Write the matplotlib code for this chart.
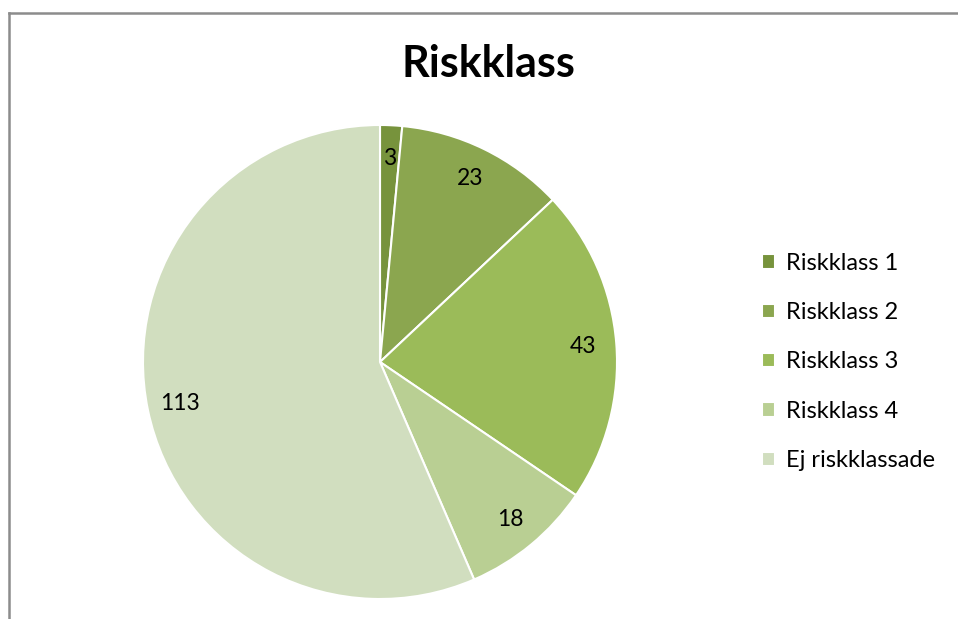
import matplotlib.pyplot as plt
from matplotlib.lines import Line2D

# data
categories = ["Riskklass 1", "Riskklass 2", "Riskklass 3", "Riskklass 4", "Ej riskklassade"]
values = [3, 23, 43, 18, 113]
colors = ["#77933C", "#8BA64F", "#9BBB59", "#B9CF93", "#D1DEBF"]

total = sum(values)
plt.rcParams['font.family'] = ['Lato', 'DejaVu Sans']

fig = plt.figure(figsize=(9.58, 6.19), dpi=100)

# chart border (top and left visible)
fig.add_artist(Line2D([9/958, 9/958], [0, 1 - 13/619], color="#8c8c8c", lw=1.8))
fig.add_artist(Line2D([9/958, 1], [1 - 13/619, 1 - 13/619], color="#8c8c8c", lw=1.8))

cx, cy, r = 380, 362, 237
ax = fig.add_axes([(cx - r)/958, (619 - cy - r)/619, 2*r/958, 2*r/619])

wedges, texts, autotexts = ax.pie(
    values, colors=colors, startangle=90, counterclock=False,
    autopct=lambda p: f"{round(p*total/100):d}", pctdistance=0.86,
    wedgeprops=dict(edgecolor="white", linewidth=1.5),
    textprops=dict(fontsize=16.5, color="black"))
ax.set_xlim(-1, 1)
ax.set_ylim(-1, 1)
ax.set_aspect("auto")

fig.text(488/958, 1 - 64/619, "Riskklass", ha="center", va="center",
         fontsize=31, fontweight="bold")

fig.legend(wedges, categories, loc="center left", bbox_to_anchor=(762/958, 1 - 362/619),
           frameon=False, fontsize=17, handlelength=0.55, handleheight=0.55,
           handletextpad=0.45, labelspacing=1.2, borderaxespad=0, borderpad=0)

plt.savefig("out.png", dpi=100)
